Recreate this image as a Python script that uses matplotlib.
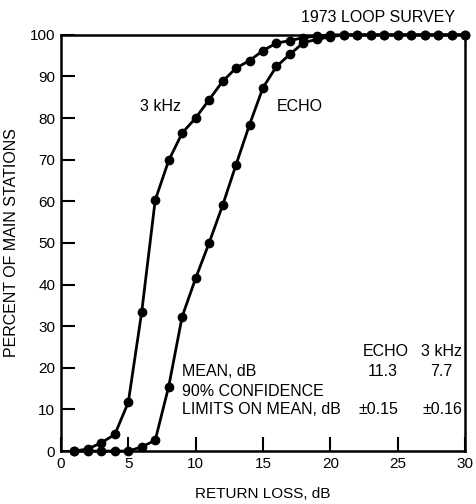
import numpy as np
import matplotlib.pyplot as plt

plt.rcParams['font.family'] = ['Liberation Sans', 'DejaVu Sans']

loss_db = list(range(1, 31))
khz3 = [0, 0.5, 2, 4, 11.7, 33.5, 60.3, 69.8, 76.4, 80, 84.4, 88.8, 92, 93.8, 96.2,
        98, 98.6, 99.3, 99.7, 100, 100, 100, 100, 100, 100, 100, 100, 100, 100, 100]
echo = [0, 0, 0, 0, 0, 1, 2.6, 15.5, 32.3, 41.5, 50, 59, 68.8, 78.4, 87.3,
        92.4, 95.3, 98.1, 98.9, 99.5, 100, 100, 100, 100, 100, 100, 100, 100, 100, 100]

x_ticks = [0, 5, 10, 15, 20, 25, 30]
y_ticks = list(range(0, 101, 10))

fig = plt.figure(figsize=(4.76, 5.04), dpi=100)
ax = fig.add_axes([0.128, 0.105, 0.849, 0.826])

ax.plot(loss_db, khz3, color="black", lw=2, marker="o", ms=6, clip_on=False, zorder=3)
ax.plot(loss_db, echo, color="black", lw=2, marker="o", ms=6, clip_on=False, zorder=3)

ax.set_xlim(0, 30)
ax.set_ylim(0, 100)
ax.set_xticks(x_ticks)
ax.set_yticks(y_ticks)
ax.tick_params(direction="in", length=10, width=1.5, labelsize=11, pad=4)
for s in ax.spines.values():
    s.set_linewidth(1.8)

ax.set_xlabel("RETURN LOSS, dB", fontsize=11, labelpad=12)
ax.set_ylabel("PERCENT OF MAIN STATIONS", fontsize=11.5, labelpad=8)

fs = 11.5
ax.text(7.4, 82.7, "3 kHz", fontsize=fs, ha="center", va="center")
ax.text(16.0, 82.7, "ECHO", fontsize=fs, ha="left", va="center")
ax.text(29.25, 104.1, "1973 LOOP SURVEY", fontsize=fs, ha="right", va="center", clip_on=False)

# summary table
ax.text(22.4, 23.8, "ECHO", fontsize=fs, ha="left", va="center")
ax.text(29.8, 23.8, "3 kHz", fontsize=fs, ha="right", va="center")
ax.text(9.0, 19.0, "MEAN, dB", fontsize=fs, ha="left", va="center")
ax.text(23.9, 19.0, "11.3", fontsize=fs, ha="center", va="center")
ax.text(28.2, 19.0, "7.7", fontsize=fs, ha="center", va="center")
ax.text(9.0, 14.2, "90% CONFIDENCE", fontsize=fs, ha="left", va="center")
ax.text(9.0, 9.9, "LIMITS ON MEAN, dB", fontsize=fs, ha="left", va="center")
ax.text(23.6, 9.9, "\u00b10.15", fontsize=fs, ha="center", va="center")
ax.text(28.3, 9.9, "\u00b10.16", fontsize=fs, ha="center", va="center")

fig.savefig("out.png", dpi=100)
